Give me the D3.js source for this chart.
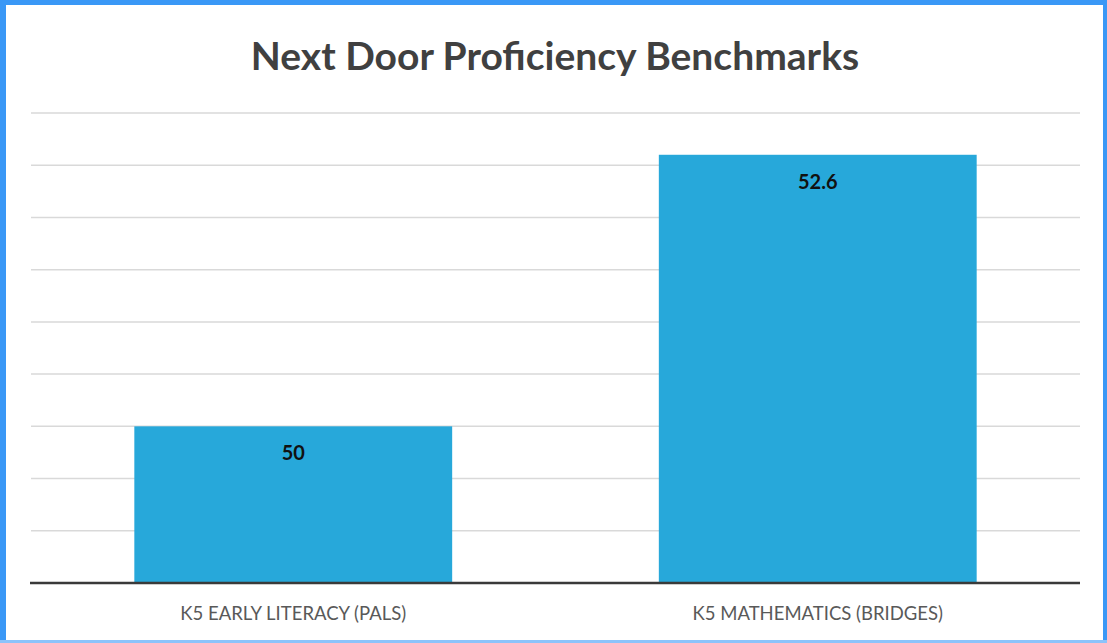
<!DOCTYPE html>
<html>
<head>
<meta charset="utf-8">
<script src="https://cdn.jsdelivr.net/npm/d3@7"></script>
<style>
  html, body { margin: 0; padding: 0; background: #fff; }
  svg { display: block; }
</style>
</head>
<body>
<svg id="chart" width="1107" height="643"></svg>
<script>
// Chart data
const categories = ["K5 EARLY LITERACY (PALS)", "K5 MATHEMATICS (BRIDGES)"];
const values = [50, 52.6];
const valueLabels = ["50", "52.6"];
const yTicks = [48.5, 49, 49.5, 50, 50.5, 51, 51.5, 52, 52.5, 53];
const title = "Next Door Proficiency Benchmarks";

const W = 1107, H = 643;
const svg = d3.select("#chart");

// Frame
svg.append("rect").attr("x", 0).attr("y", 0).attr("width", W).attr("height", H).attr("fill", "#fff");
svg.append("rect").attr("x", 0).attr("y", 0).attr("width", 6).attr("height", H).attr("fill", "#3a98f6");
svg.append("rect").attr("x", 0).attr("y", 0).attr("width", W).attr("height", 5).attr("fill", "#3a98f6");
svg.append("rect").attr("x", 1103).attr("y", 0).attr("width", 4).attr("height", H).attr("fill", "#3a98f6");
svg.append("rect").attr("x", 0).attr("y", 640).attr("width", W).attr("height", 3).attr("fill", "#8cc3fa");

const plot = { left: 31, right: 1080, top: 113, bottom: 583 };

const x = d3.scaleBand()
  .domain(categories)
  .range([plot.left, plot.right])
  .paddingInner(0.394)
  .paddingOuter(0.197);

const y = d3.scaleLinear()
  .domain([48.5, 53])
  .range([plot.bottom, plot.top]);

// Gridlines
svg.append("g")
  .selectAll("line")
  .data(yTicks.slice(1))
  .join("line")
  .attr("x1", plot.left)
  .attr("x2", plot.right)
  .attr("y1", d => y(d))
  .attr("y2", d => y(d))
  .attr("stroke", "#d9d9d9")
  .attr("stroke-width", 1.5);

// Bars
svg.append("g")
  .selectAll("rect")
  .data(values)
  .join("rect")
  .attr("x", (d, i) => x(categories[i]))
  .attr("width", x.bandwidth())
  .attr("y", d => y(d))
  .attr("height", d => y(48.5) - y(d))
  .attr("fill", "#27a8da");

// Baseline
svg.append("line")
  .attr("x1", plot.left - 1)
  .attr("x2", plot.right)
  .attr("y1", y(48.5))
  .attr("y2", y(48.5))
  .attr("stroke", "#3a3a3a")
  .attr("stroke-width", 2.5);

// Value labels
svg.append("g")
  .selectAll("text")
  .data(values)
  .join("text")
  .attr("x", (d, i) => x(categories[i]) + x.bandwidth() / 2)
  .attr("y", d => y(d) + 34)
  .attr("text-anchor", "middle")
  .attr("font-family", "Lato, 'Open Sans', sans-serif")
  .attr("font-weight", "bold")
  .attr("font-size", 20)
  .attr("fill", "#111")
  .text((d, i) => valueLabels[i]);

// Category labels
svg.append("g")
  .selectAll("text")
  .data(categories)
  .join("text")
  .attr("x", d => x(d) + x.bandwidth() / 2)
  .attr("y", 620)
  .attr("text-anchor", "middle")
  .attr("font-family", "Lato, 'Open Sans', sans-serif")
  .attr("font-size", 18.5)
  .attr("fill", "#595959")
  .text(d => d);

// Title
svg.append("text")
  .attr("x", 555)
  .attr("y", 70)
  .attr("text-anchor", "middle")
  .attr("font-family", "Lato, 'Open Sans', sans-serif")
  .attr("font-weight", "bold")
  .attr("font-size", 39)
  .attr("fill", "#404040")
  .text(title);
</script>
</body>
</html>
